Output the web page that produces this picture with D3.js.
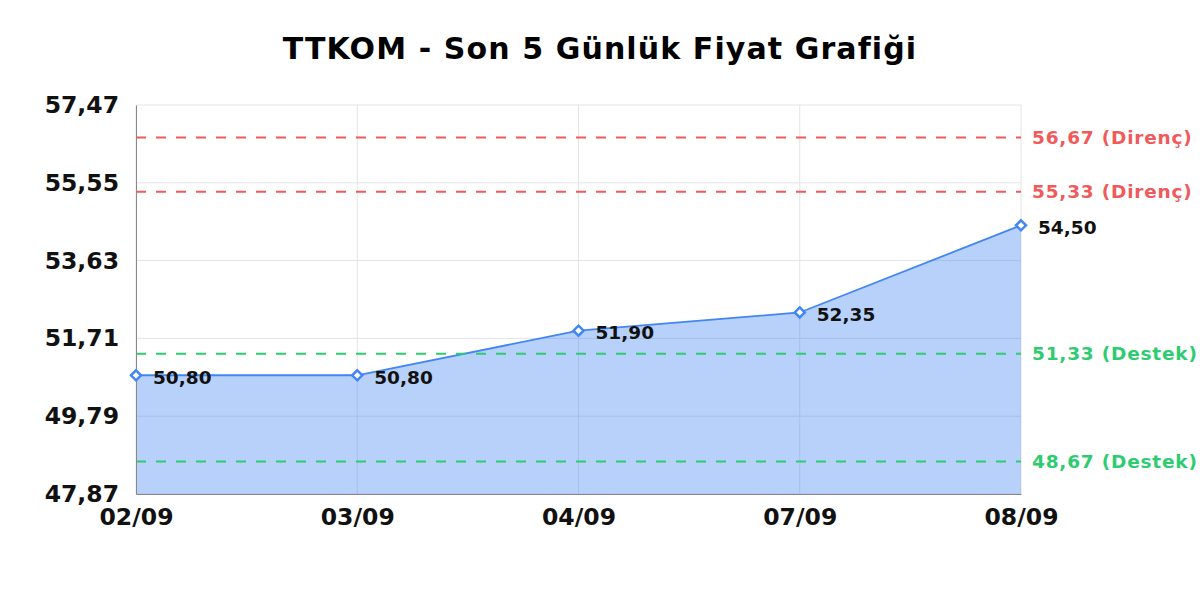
<!DOCTYPE html>
<html>
<head>
<meta charset="utf-8">
<script src="https://cdn.jsdelivr.net/npm/d3@7"></script>
<style>
  body { margin: 0; background: #fff; }
  text { font-family: "DejaVu Sans", sans-serif; font-weight: bold; }
</style>
</head>
<body>
<div id="chart"></div>
<script>
// data
const dates = ["02/09", "03/09", "04/09", "07/09", "08/09"];
const prices = [50.80, 50.80, 51.90, 52.35, 54.50];
const yTicks = [47.87, 49.79, 51.71, 53.63, 55.55, 57.47];
const resistance = [56.67, 55.33];
const support = [51.33, 48.67];

const width = 1200, height = 600;
const margin = {top: 105, right: 179, bottom: 106, left: 136};
const fmt = v => v.toFixed(2).replace(".", ",");

const svg = d3.select("#chart").append("svg")
    .attr("width", width).attr("height", height);

const x = d3.scalePoint()
    .domain(dates)
    .range([margin.left, width - margin.right]);

const y = d3.scaleLinear()
    .domain([yTicks[0], yTicks[yTicks.length - 1]])
    .range([height - margin.bottom, margin.top]);

// title
svg.append("text")
    .attr("x", 600).attr("y", 59)
    .attr("text-anchor", "middle")
    .attr("font-size", 30)
    .attr("letter-spacing", 1.1)
    .text("TTKOM - Son 5 Günlük Fiyat Grafiği");

// grid
const grid = svg.append("g").attr("stroke", "#e4e4e4").attr("stroke-width", 1);
grid.selectAll("line.h").data(yTicks).join("line")
    .attr("x1", margin.left).attr("x2", width - margin.right)
    .attr("y1", d => y(d)).attr("y2", d => y(d));
grid.selectAll("line.v").data(dates).join("line")
    .attr("x1", d => x(d)).attr("x2", d => x(d))
    .attr("y1", margin.top).attr("y2", height - margin.bottom);

// area + line
const pts = dates.map((d, i) => ({d, v: prices[i]}));
svg.append("path")
    .datum(pts)
    .attr("fill", "#4285f4").attr("fill-opacity", 0.38)
    .attr("d", d3.area().x(p => x(p.d)).y0(y(yTicks[0])).y1(p => y(p.v)));
svg.append("path")
    .datum(pts)
    .attr("fill", "none").attr("stroke", "#4285f4").attr("stroke-width", 1.8)
    .attr("d", d3.line().x(p => x(p.d)).y(p => y(p.v)));

// support / resistance lines
const levels = resistance.map(v => ({v, label: "Direnç", c: "#f05a5a"}))
  .concat(support.map(v => ({v, label: "Destek", c: "#2ecc71"})));
svg.append("g").selectAll("line").data(levels).join("line")
    .attr("x1", margin.left).attr("x2", width - margin.right)
    .attr("y1", d => y(d.v)).attr("y2", d => y(d.v))
    .attr("stroke", d => d.c).attr("stroke-width", 2)
    .attr("stroke-dasharray", "10,10");
svg.append("g").selectAll("text").data(levels).join("text")
    .attr("x", width - margin.right + 11)
    .attr("y", d => y(d.v)).attr("dy", "0.36em")
    .attr("font-size", 18.5).attr("letter-spacing", 0.8).attr("fill", d => d.c)
    .text(d => `${fmt(d.v)} (${d.label})`);

// axes
svg.append("g")
    .attr("transform", `translate(${margin.left},0)`)
    .call(d3.axisLeft(y).tickValues(yTicks).tickSize(0).tickPadding(17).tickFormat(fmt))
    .call(g => g.select(".domain").attr("stroke", "#888"))
    .call(g => g.selectAll("text").attr("font-size", 23.5).attr("fill", "#111")
        .attr("font-family", "DejaVu Sans").attr("font-weight", "bold"));

svg.append("g")
    .attr("transform", `translate(0,${height - margin.bottom})`)
    .call(d3.axisBottom(x).tickSize(0).tickPadding(14))
    .call(g => g.select(".domain").attr("stroke", "#888"))
    .call(g => g.selectAll("text").attr("font-size", 23.5).attr("fill", "#111")
        .attr("font-family", "DejaVu Sans").attr("font-weight", "bold"));

// markers + value labels
svg.append("g").selectAll("path").data(pts).join("path")
    .attr("transform", p => `translate(${x(p.d)},${y(p.v)})`)
    .attr("d", d3.symbol(d3.symbolDiamond2, 64))
    .attr("fill", "#fff").attr("stroke", "#4285f4").attr("stroke-width", 2.5);
svg.append("g").selectAll("text").data(pts).join("text")
    .attr("x", p => x(p.d) + 17).attr("y", p => y(p.v) + 2)
    .attr("dy", "0.36em")
    .attr("font-size", 18.5).attr("fill", "#111")
    .text(p => fmt(p.v));
</script>
</body>
</html>
